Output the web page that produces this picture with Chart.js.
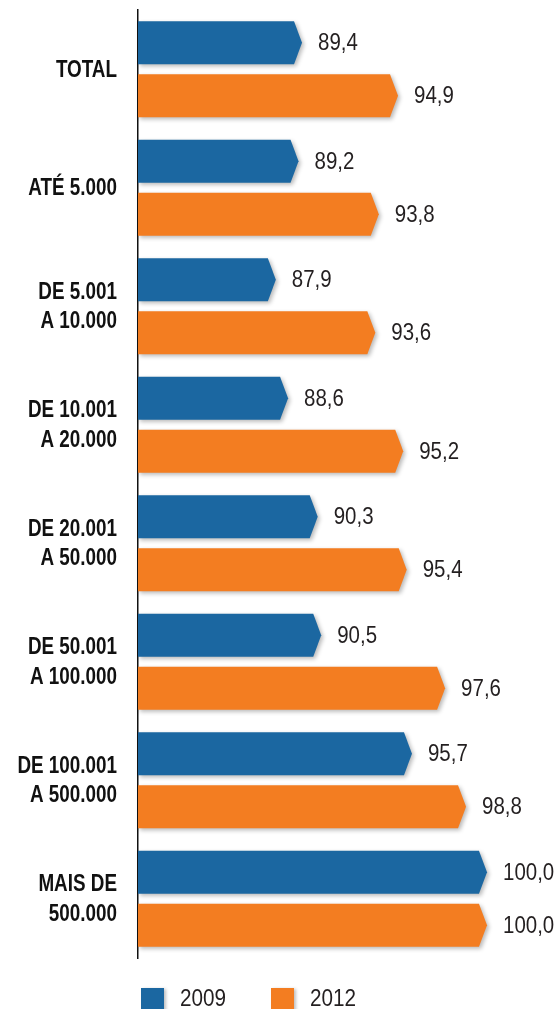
<!DOCTYPE html>
<html>
<head>
<meta charset="utf-8">
<script src="https://cdn.jsdelivr.net/npm/chart.js@4"></script>
<style>
    html, body { margin: 0; padding: 0; background: #fff; }
    #wrap { width: 554px; height: 1009px; }
</style>
</head>
<body>
<div id="wrap"><canvas id="chart" width="554" height="1009"></canvas></div>
<script>
// Faixas de população
const categories = [
    ['TOTAL'],
    ['ATÉ 5.000'],
    ['DE 5.001', 'A 10.000'],
    ['DE 10.001', 'A 20.000'],
    ['DE 20.001', 'A 50.000'],
    ['DE 50.001', 'A 100.000'],
    ['DE 100.001', 'A 500.000'],
    ['MAIS DE', '500.000']
];
const values2009 = [89.4, 89.2, 87.9, 88.6, 90.3, 90.5, 95.7, 100.0];
const values2012 = [94.9, 93.8, 93.6, 95.2, 95.4, 97.6, 98.8, 100.0];
const seriesLabels = ['2009', '2012'];
const axisMin = 80;
const axisMax = 100;

const blue = '#1b67a1';
const orange = '#f37d21';
const fontFamily = '"Liberation Sans", Arial, sans-serif';

// texto "condensado" (sem fonte narrow instalada)
function condensedText(ctx, txt, x, y, sx, align) {
    ctx.save();
    ctx.translate(x, y);
    ctx.scale(sx, 1);
    ctx.textAlign = align;
    ctx.fillText(txt, 0, 0);
    ctx.restore();
}

// Barras com ponta de seta
const arrowBars = {
    id: 'arrowBars',
    beforeDatasetDraw(chart, args) {
        const ctx = chart.ctx;
        const meta = args.meta;
        const color = chart.data.datasets[args.index].backgroundColor;
        const left = chart.chartArea.left;
        ctx.save();
        ctx.fillStyle = color;
        ctx.shadowColor = 'rgba(0,0,0,0.28)';
        ctx.shadowBlur = 4;
        ctx.shadowOffsetX = 2;
        ctx.shadowOffsetY = 2;
        meta.data.forEach(bar => {
            const p = bar.getProps(['x', 'y', 'base', 'height'], true);
            const h = p.height / 2;
            const tip = 8;
            const base = Math.max(p.base, left);
            ctx.beginPath();
            ctx.moveTo(base, p.y - h);
            ctx.lineTo(p.x - tip, p.y - h);
            ctx.lineTo(p.x, p.y);
            ctx.lineTo(p.x - tip, p.y + h);
            ctx.lineTo(base, p.y + h);
            ctx.closePath();
            ctx.fill();
        });
        ctx.restore();
        return false;
    },
    afterDatasetsDraw(chart) {
        const ctx = chart.ctx;
        ctx.save();
        ctx.fillStyle = '#231f20';
        ctx.font = '23px ' + fontFamily;
        ctx.textBaseline = 'middle';
        chart.data.datasets.forEach((ds, i) => {
            chart.getDatasetMeta(i).data.forEach((bar, j) => {
                const txt = ds.data[j].toFixed(1).replace('.', ',');
                condensedText(ctx, txt, bar.x + 16, bar.y + 1, 0.89, 'left');
            });
        });

        // Rótulos das categorias
        const yScale = chart.scales.y;
        ctx.fillStyle = '#111';
        ctx.font = 'bold 23px ' + fontFamily;
        categories.forEach((lines, i) => {
            const cy = yScale.getPixelForTick(i);
            const lh = 29.5;
            const y0 = cy - (lines.length - 1) * lh / 2;
            lines.forEach((line, k) => {
                condensedText(ctx, line, yScale.right - 21, y0 + k * lh + 1, 0.82, 'right');
            });
        });
        ctx.restore();
    },
    afterDraw(chart) {
        // Legenda
        const ctx = chart.ctx;
        ctx.save();
        ctx.font = '23px ' + fontFamily;
        ctx.textBaseline = 'middle';
        let x = 141;
        const y = 988;
        chart.data.datasets.forEach(ds => {
            ctx.save();
            ctx.shadowColor = 'rgba(0,0,0,0.25)';
            ctx.shadowBlur = 3;
            ctx.shadowOffsetX = 2;
            ctx.shadowOffsetY = 1;
            ctx.fillStyle = ds.backgroundColor;
            ctx.fillRect(x, y, 23, 23);
            ctx.restore();
            ctx.fillStyle = '#231f20';
            condensedText(ctx, ds.label, x + 39, y + 12, 0.9, 'left');
            x += 130;
        });
        ctx.restore();
    }
};

new Chart(document.getElementById('chart'), {
    type: 'bar',
    data: {
        labels: categories,
        datasets: [
            { label: seriesLabels[0], data: values2009, backgroundColor: blue, base: axisMin },
            { label: seriesLabels[1], data: values2012, backgroundColor: orange, base: axisMin }
        ]
    },
    options: {
        indexAxis: 'y',
        responsive: false,
        animation: false,
        categoryPercentage: 0.895,
        barPercentage: 0.81,
        layout: { padding: { top: 10, right: 67, bottom: 51, left: 0 } },
        plugins: {
            legend: { display: false },
            tooltip: { enabled: false }
        },
        scales: {
            x: {
                display: false,
                min: axisMin,
                max: axisMax
            },
            y: {
                afterFit(scale) {
                    scale.width = 138;
                    scale.paddingTop = 0;
                    scale.paddingBottom = 0;
                },
                grid: { display: false, drawTicks: false },
                border: { display: true, color: '#111', width: 1.5 },
                ticks: { display: false }
            }
        }
    },
    plugins: [arrowBars]
});
</script>
</body>
</html>
